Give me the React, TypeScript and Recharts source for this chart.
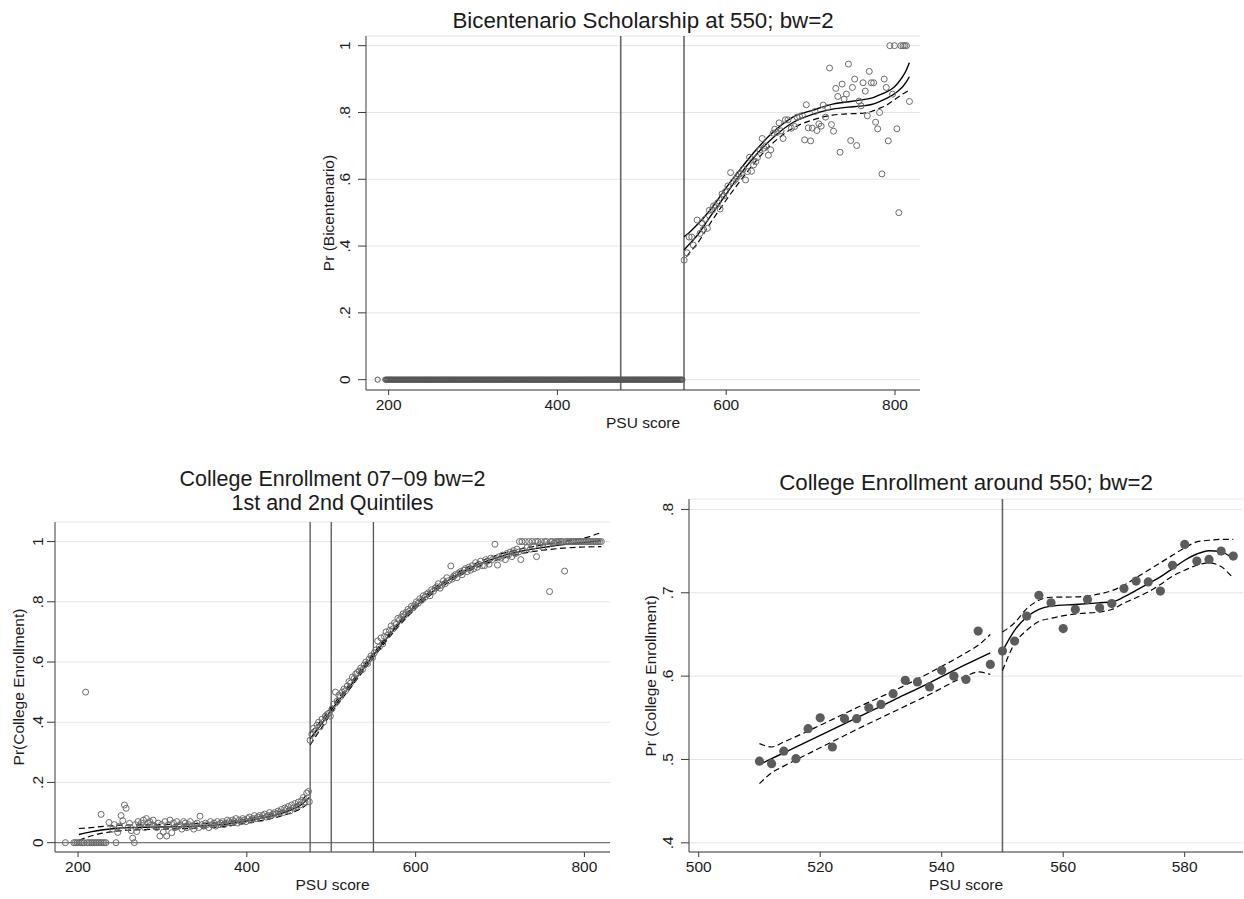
import React from 'react';
import { ComposedChart, Scatter, Line, XAxis, YAxis, CartesianGrid, ReferenceLine } from 'recharts';

const FONT = '"Liberation Sans", Arial, Helvetica, sans-serif';
const TICK_FS = 15.5;
const TITLE_FS = 22.3;
const TXT = '#1a1a1a';
const AX = '#3a3a3a';

// ---------- Panel 1: Bicentenario Scholarship ----------
const bicXTicks = [200, 400, 600, 800];
const bicYTicks = [0, 0.2, 0.4, 0.6, 0.8, 1];
const bicCutoffs = [475, 550];
const bicZeroX = [187,
  196,198,200,202,204,206,208,210,212,214,216,218,220,222,224,226,228,230,232,234,
  236,238,240,242,244,246,248,250,252,254,256,258,260,262,264,266,268,270,272,274,
  276,278,280,282,284,286,288,290,292,294,296,298,300,302,304,306,308,310,312,314,
  316,318,320,322,324,326,328,330,332,334,336,338,340,342,344,346,348,350,352,354,
  356,358,360,362,364,366,368,370,372,374,376,378,380,382,384,386,388,390,392,394,
  396,398,400,402,404,406,408,410,412,414,416,418,420,422,424,426,428,430,432,434,
  436,438,440,442,444,446,448,450,452,454,456,458,460,462,464,466,468,470,472,474,
  476,478,480,482,484,486,488,490,492,494,496,498,500,502,504,506,508,510,512,514,
  516,518,520,522,524,526,528,530,532,534,536,538,540,542,544,546,548];
const bicZeroX2 = [
  197,199,201,203,205,207,209,211,213,215,217,219,221,223,225,227,229,231,233,235,
  237,239,241,243,245,247,249,251,253,255,257,259,261,263,265,267,269,271,273,275,
  277,279,281,283,285,287,289,291,293,295,297,299,301,303,305,307,309,311,313,315,
  317,319,321,323,325,327,329,331,333,335,337,339,341,343,345,347,349,351,353,355,
  357,359,361,363,365,367,369,371,373,375,377,379,381,383,385,387,389,391,393,395,
  397,399,401,403,405,407,409,411,413,415,417,419,421,423,425,427,429,431,433,435,
  437,439,441,443,445,447,449,451,453,455,457,459,461,463,465,467,469,471,473,475,
  477,479,481,483,485,487,489,491,493,495,497,499,501,503,505,507,509,511,513,515,
  517,519,521,523,525,527,529,531,533,535,537,539,541,543,545,547];
const bicRightX = [550.2,553.4,556.1,559.2,561,565.5,569,571,573,575,577.7,580,583.6,585,587.6,590,592.7,595,597,599,
  602,605.2,608.4,611,613.1,615,617.8,620,622.9,625.3,627.6,630,632.4,635.1,637,639.8,642.6,644.5,647,650,
  652.8,655.6,657.5,660,662.6,665,667.4,670.1,673.2,677.2,681.1,683.9,687,690.2,692.9,694.9,697.2,700,701.9,705.1,
  707.4,709.8,712.5,714.9,717.7,720,722.4,724.7,727.1,729.8,732.2,734.9,737.3,739.7,742.4,744.8,747.5,749.5,752.2,754.6,
  757.4,759.7,762.1,764.8,767.2,769.5,771.9,774.7,777,779.4,781.7,784.5,787.2,789.6,792,793.9,797.1,799.4,802.2,804.5,
  806.9,809.6,811.6,813.6,817.1];
const bicRightY = [0.358,0.380,0.427,0.427,0.403,0.478,0.438,0.470,0.450,0.480,0.453,0.507,0.508,0.520,0.521,0.530,0.511,0.556,0.550,0.563,
  0.580,0.620,0.593,0.600,0.608,0.615,0.618,0.630,0.598,0.623,0.666,0.624,0.643,0.653,0.665,0.688,0.722,0.693,0.700,0.672,
  0.688,0.738,0.750,0.740,0.769,0.745,0.722,0.778,0.778,0.753,0.758,0.786,0.788,0.791,0.718,0.823,0.754,0.715,0.753,0.803,
  0.746,0.766,0.759,0.822,0.786,0.815,0.933,0.764,0.744,0.872,0.848,0.681,0.885,0.840,0.855,0.945,0.716,0.875,0.900,0.701,
  0.834,0.820,0.889,0.864,0.790,0.923,0.889,0.889,0.771,0.751,0.800,0.616,0.900,0.875,0.715,1.0,0.855,1.0,0.751,0.500,
  1.0,1.0,1.0,1.0,0.833];
const bicFitX = [550,556,565,581,600,616,636,656,679,703,726,745,758,772,781,790,797,803,809,813,817];
const bicUpper = [0.428,0.440,0.462,0.508,0.575,0.628,0.690,0.742,0.786,0.807,0.825,0.832,0.837,0.843,0.852,0.862,0.872,0.887,0.907,0.925,0.949];
const bicFit = [0.388,0.405,0.430,0.488,0.556,0.613,0.675,0.726,0.770,0.795,0.810,0.816,0.819,0.824,0.832,0.842,0.852,0.863,0.877,0.890,0.907];
const bicLowerX = [553,556,565,581,600,616,636,656,679,703,726,745,758,772,781,790,797,803,809,817];
const bicLower = [0.368,0.378,0.405,0.468,0.538,0.593,0.657,0.710,0.753,0.778,0.792,0.796,0.797,0.803,0.812,0.822,0.834,0.845,0.855,0.867];

// ---------- Panel 2: College Enrollment 07-09 ----------
const ceXTicks = [200, 400, 600, 800];
const ceYTicks = [0, 0.2, 0.4, 0.6, 0.8, 1];
const ceCutoffs = [475, 500, 550];
const ceX = [185,195,197,199,201,203,205,207,209,211,213,215,217,219,221,223,225,227,227.3,229,
  231,233,236.7,241,243,245,247,249,251,253,255,257,259,261,263,264.8,266.7,268,269.5,271,
  273,275,277.4,279,281,283,285,287,289,291,293,295,297,299,301,303,305,307,309,311,
  313,315,317,319,321,323,325,327,329,331,333,335,337,339,341,343,344.5,347,349,351,
  353,355,357,359,361,363,365,367,369,371,373,375,377,379,381,383,385,387,389,391,
  393,395,397,399,401,403,405,407,409,411,413,415,417,419,421,423,425,427,429,431,
  433,435,437,439,441,443,445,447,449,451,453,455,457,459,461,463,465,467,469,471,
  473,474,
  475,477,479,481,483,485,487,489,491,493,495,497,499,501,503,505,507,509,511,513,
  515,517,519,521,523,525,527,529,531,533,535,537,539,541,543,545,547,549,551,553,
  555,557,559,561,563,565,567,569,571,573,575,577,579,581,583,585,587,589,591,593,
  595,597,599,601,603,605,607,609,611,613,615,617,619,621,623,625,627,629,631,633,
  635,637,639,641.7,643,645,647,649,651,653,655,657,659,661,663,665,667,669,671,673,
  675,677,679,681.6,683,685,687,689,691,694,697,699,701,703,706.3,708,710,712,714,716,
  718,720,722,723,724.6,726,728,730,732,734,736,738,740,742,743.3,745,747,749,751,753,
  755,757,758.7,760,762,764,766,768,770,772,774,776.5,778,780,782,784,786,788,790,792,
  794,796,798,800,802,804,806,808,810,812,814,816,818,820];
const ceY = [0,0,0,0,0,0,0,0,0.5,0,0,0,0,0,0,0,0,0,0.094,0,
  0,0,0.067,0.045,0.06,0,0.034,0.055,0.09,0.073,0.125,0.114,0.05,0.064,0.04,0.015,0,0.06,0.037,0.07,
  0.055,0.065,0.075,0.05,0.08,0.065,0.07,0.06,0.075,0.055,0.05,0.065,0.022,0.06,0.035,0.07,0.022,0.06,0.075,0.033,
  0.065,0.05,0.07,0.055,0.06,0.045,0.07,0.065,0.05,0.06,0.07,0.055,0.045,0.06,0.065,0.05,0.088,0.06,0.055,0.065,
  0.06,0.05,0.07,0.06,0.065,0.055,0.07,0.06,0.065,0.07,0.06,0.065,0.075,0.07,0.065,0.075,0.07,0.08,0.065,0.075,
  0.07,0.08,0.075,0.07,0.08,0.085,0.075,0.08,0.09,0.08,0.085,0.09,0.08,0.09,0.095,0.085,0.09,0.1,0.09,0.095,
  0.1,0.095,0.105,0.1,0.11,0.1,0.115,0.11,0.12,0.105,0.125,0.115,0.13,0.12,0.135,0.125,0.14,0.15,0.135,0.165,
  0.17,0.136,
  0.34,0.36,0.38,0.37,0.39,0.40,0.385,0.41,0.40,0.42,0.425,0.43,0.42,0.445,0.46,0.50,0.47,0.49,0.485,0.50,
  0.51,0.505,0.52,0.535,0.53,0.55,0.545,0.56,0.565,0.57,0.58,0.575,0.59,0.60,0.595,0.61,0.62,0.615,0.63,0.64,
  0.67,0.65,0.68,0.66,0.685,0.70,0.69,0.705,0.72,0.71,0.73,0.725,0.745,0.74,0.75,0.76,0.755,0.765,0.775,0.77,
  0.785,0.78,0.79,0.80,0.795,0.81,0.805,0.82,0.815,0.825,0.83,0.82,0.84,0.835,0.845,0.85,0.86,0.845,0.855,0.87,
  0.86,0.88,0.87,0.919,0.875,0.885,0.89,0.88,0.895,0.90,0.89,0.905,0.91,0.90,0.915,0.905,0.92,0.91,0.93,0.915,
  0.925,0.935,0.92,0.92,0.94,0.935,0.925,0.945,0.94,0.991,0.922,0.95,0.945,0.955,0.94,0.96,0.955,0.965,0.95,0.97,
  0.96,0.975,0.965,1,0.94,1,0.97,1,0.98,1,0.975,1,0.985,1,0.95,1,0.99,1,0.98,1,
  1,0.99,0.834,1,1,0.995,1,1,1,1,1,0.902,1,1,1,1,1,1,1,1,
  1,1,1,1,1,1,1,1,1,1,1,1,1,1];
const ceLeftFitX = [201,215,230,248,275,300,342,370,389,410,436,450,464,474];
const ceLeftFit = [0.027,0.036,0.043,0.048,0.051,0.052,0.055,0.060,0.067,0.077,0.093,0.106,0.125,0.150];
const ceLeftUp = [0.047,0.050,0.054,0.058,0.059,0.060,0.063,0.067,0.074,0.084,0.101,0.115,0.138,0.170];
const ceLeftLo = [0.008,0.022,0.032,0.039,0.043,0.045,0.048,0.053,0.060,0.070,0.085,0.097,0.113,0.133];
const ceRightFitX = [475,490,500,525,550,575,600,625,650,675,700,725,750,775,800,820];
const ceRightFit = [0.345,0.400,0.440,0.530,0.622,0.710,0.785,0.845,0.890,0.925,0.950,0.968,0.980,0.990,0.997,1.003];
const ceRightUp = [0.365,0.412,0.450,0.538,0.629,0.717,0.792,0.852,0.897,0.932,0.958,0.976,0.989,1.000,1.012,1.030];
const ceRightLo = [0.325,0.388,0.430,0.522,0.615,0.703,0.778,0.838,0.883,0.918,0.942,0.960,0.971,0.978,0.982,0.983];

// ---------- Panel 3: College Enrollment around 550 ----------
const nrXTicks = [500, 520, 540, 560, 580];
const nrYTicks = [0.4, 0.5, 0.6, 0.7, 0.8];
const nrCutoff = 550;
const nrX = [510,512,514,516,518,520,522,524,526,528,530,532,534,536,538,540,542,544,546,548,
  550,552,554,556,558,560,562,564,566,568,570,572,574,576,578,580,582,584,586,588];
const nrY = [0.498,0.495,0.510,0.501,0.537,0.550,0.515,0.549,0.549,0.562,0.566,0.579,0.595,0.593,0.587,0.607,0.600,0.596,0.654,0.614,
  0.630,0.642,0.672,0.697,0.688,0.657,0.680,0.692,0.682,0.687,0.705,0.714,0.713,0.702,0.733,0.758,0.738,0.740,0.750,0.744];
const nrLeftX = [510,512,514,520,526,532,538,544,546,548];
const nrLeftFit = [0.494,0.501,0.508,0.529,0.550,0.571,0.592,0.614,0.621,0.628];
const nrLeftUp = [0.519,0.515,0.521,0.541,0.562,0.582,0.604,0.628,0.637,0.650];
const nrLeftLo = [0.471,0.484,0.492,0.514,0.536,0.557,0.578,0.600,0.605,0.602];
const nrRightX = [550,552,554,556,558,562,566,568,570,572,574,576,578,580,582,584,586,588];
const nrRightFit = [0.630,0.655,0.671,0.680,0.684,0.686,0.688,0.689,0.695,0.703,0.711,0.719,0.729,0.739,0.7465,0.7505,0.749,0.741];
const nrRightUp = [0.653,0.664,0.681,0.691,0.6946,0.695,0.6986,0.7025,0.709,0.718,0.727,0.736,0.745,0.754,0.761,0.763,0.764,0.764];
const nrRightLo = [0.6066,0.639,0.655,0.6655,0.6694,0.6746,0.677,0.680,0.6875,0.694,0.701,0.710,0.720,0.727,0.733,0.736,0.7314,0.7174];

// ---------- helpers ----------
const pts = (xs: number[], ys: number[]) => xs.map((x, i) => ({ x, y: ys[i] }));
const zeros = (xs: number[]) => xs.map((x) => ({ x, y: 0 }));

const fmtTick = (v: number) => {
  if (v === 0) return '0';
  if (v === 1) return '1';
  return String(Math.round(v * 10) / 10).replace(/^0\./, '.');
};

const RotTick = (props: any) => {
  const { x, y, payload } = props;
  return (
    <text x={x} y={y} transform={`rotate(-90 ${x} ${y})`} textAnchor="middle"
      fontSize={TICK_FS} fontFamily={FONT} fill={TXT}>{fmtTick(payload.value)}</text>
  );
};

const HollowDot = (props: any) => {
  const { cx, cy } = props;
  if (cx == null || cy == null) return <g />;
  return <circle cx={cx} cy={cy} r={3} fill="none" stroke="#6b6b6b" strokeWidth={1} />;
};
const ZeroDot = (props: any) => {
  const { cx, cy } = props;
  if (cx == null || cy == null) return <g />;
  return <circle cx={cx} cy={cy} r={2.6} fill="none" stroke="#555" strokeWidth={1} />;
};
const SolidDot = (props: any) => {
  const { cx, cy } = props;
  if (cx == null || cy == null) return <g />;
  return <circle cx={cx} cy={cy} r={4.6} fill="#5c5c5c" />;
};

const xTickStyle = { fontSize: TICK_FS, fontFamily: FONT, fill: TXT };

const fitLine = (key: string, data: any[], dashed: boolean) => (
  <Line key={key} data={data} dataKey="y" type="monotone" stroke="#000" strokeWidth={dashed ? 1.2 : 1.4}
    strokeDasharray={dashed ? '6 3.5' : undefined} dot={false} activeDot={false} isAnimationActive={false} />
);

export default function App() {
  return (
    <div style={{ position: 'absolute', left: 0, top: 0, width: 1244, height: 899, background: '#fff', overflow: 'hidden' }}>
      {/* Panel 1 */}
      <div style={{ position: 'absolute', left: 300, top: 30 }}>
        <ComposedChart width={640} height={400} margin={{ top: 6, right: 20, bottom: 0, left: 0 }}>
          <CartesianGrid horizontal vertical={false} stroke="#e6e6e6" />
          <XAxis type="number" dataKey="x" domain={[173.2, 829.6]} allowDataOverflow ticks={bicXTicks} interval={0}
            height={40} tickSize={5} tickMargin={4} axisLine={{ stroke: AX }} tickLine={{ stroke: AX }} tick={xTickStyle} />
          <YAxis type="number" dataKey="y" domain={[-0.031, 1.029]} allowDataOverflow ticks={bicYTicks} interval={0}
            width={66} tickSize={8} tickMargin={8} axisLine={{ stroke: AX }} tickLine={{ stroke: AX }} tick={RotTick} />
          <ReferenceLine x={bicCutoffs[0]} stroke="#666" strokeWidth={1.6} />
          <ReferenceLine x={bicCutoffs[1]} stroke="#222" strokeWidth={1.1} />
          <Scatter data={zeros(bicZeroX)} shape={ZeroDot} isAnimationActive={false} />
          <Scatter data={zeros(bicZeroX2)} shape={ZeroDot} isAnimationActive={false} />
          <Scatter data={pts(bicRightX, bicRightY)} shape={HollowDot} isAnimationActive={false} />
          {fitLine('bu', pts(bicFitX, bicUpper), false)}
          {fitLine('bf', pts(bicFitX, bicFit), false)}
          {fitLine('bl', pts(bicLowerX, bicLower), true)}
        </ComposedChart>
      </div>

      {/* Panel 2 */}
      <div style={{ position: 'absolute', left: 0, top: 500 }}>
        <ComposedChart width={630} height={390} margin={{ top: 22, right: 20, bottom: 0, left: 0 }}>
          <CartesianGrid horizontal vertical={false} stroke="#e6e6e6" />
          <XAxis type="number" dataKey="x" domain={[172.7, 830.3]} allowDataOverflow ticks={ceXTicks} interval={0}
            height={38} tickSize={5} tickMargin={4} axisLine={{ stroke: AX }} tickLine={{ stroke: AX }} tick={xTickStyle} />
          <YAxis type="number" dataKey="y" domain={[-0.031, 1.065]} allowDataOverflow ticks={ceYTicks} interval={0}
            width={55} tickSize={8} tickMargin={4} axisLine={{ stroke: AX }} tickLine={{ stroke: AX }} tick={RotTick} />
          <ReferenceLine y={0} stroke="#777" strokeWidth={1.2} />
          {ceCutoffs.map((c) => (
            <ReferenceLine key={c} x={c} stroke="#555" strokeWidth={1.3} />
          ))}
          <Scatter data={pts(ceX, ceY)} shape={HollowDot} isAnimationActive={false} />
          {fitLine('lf', pts(ceLeftFitX, ceLeftFit), false)}
          {fitLine('lu', pts(ceLeftFitX, ceLeftUp), true)}
          {fitLine('ll', pts(ceLeftFitX, ceLeftLo), true)}
          {fitLine('rf', pts(ceRightFitX, ceRightFit), false)}
          {fitLine('ru', pts(ceRightFitX, ceRightUp), true)}
          {fitLine('rl', pts(ceRightFitX, ceRightLo), true)}
        </ComposedChart>
      </div>

      {/* Panel 3 */}
      <div style={{ position: 'absolute', left: 630, top: 480 }}>
        <ComposedChart width={614} height={410} margin={{ top: 19, right: 1, bottom: 0, left: 0 }}>
          <CartesianGrid horizontal vertical={false} stroke="#e6e6e6" />
          <XAxis type="number" dataKey="x" domain={[498.4, 589.6]} allowDataOverflow ticks={nrXTicks} interval={0}
            height={38} tickSize={5} tickMargin={4} axisLine={{ stroke: AX }} tickLine={{ stroke: AX }} tick={xTickStyle} />
          <YAxis type="number" dataKey="y" domain={[0.389, 0.8125]} allowDataOverflow ticks={nrYTicks} interval={0}
            width={59} tickSize={8} tickMargin={8} axisLine={{ stroke: AX }} tickLine={{ stroke: AX }} tick={RotTick} />
          <ReferenceLine x={nrCutoff} stroke="#666" strokeWidth={1.6} />
          <Scatter data={pts(nrX, nrY)} shape={SolidDot} isAnimationActive={false} />
          {fitLine('nlf', pts(nrLeftX, nrLeftFit), false)}
          {fitLine('nlu', pts(nrLeftX, nrLeftUp), true)}
          {fitLine('nll', pts(nrLeftX, nrLeftLo), true)}
          {fitLine('nrf', pts(nrRightX, nrRightFit), false)}
          {fitLine('nru', pts(nrRightX, nrRightUp), true)}
          {fitLine('nrl', pts(nrRightX, nrRightLo), true)}
        </ComposedChart>
      </div>

      {/* Titles and axis titles */}
      <svg width={1244} height={899} style={{ position: 'absolute', left: 0, top: 0, pointerEvents: 'none' }}
        fontFamily={FONT} fill={TXT}>
        <text x={643} y={28} fontSize={TITLE_FS} textAnchor="middle">Bicentenario Scholarship at 550; bw=2</text>
        <text x={643} y={428} fontSize={TICK_FS} textAnchor="middle">PSU score</text>
        <text x={334} y={213} fontSize={TICK_FS} textAnchor="middle" transform="rotate(-90 334 213)">Pr (Bicentenario)</text>

        <text x={332.5} y={486} fontSize={21.5} textAnchor="middle">College Enrollment 07−09 bw=2</text>
        <text x={332.5} y={510} fontSize={21.5} textAnchor="middle">1st and 2nd Quintiles</text>
        <text x={332.5} y={890} fontSize={TICK_FS} textAnchor="middle">PSU score</text>
        <text x={24} y={687} fontSize={TICK_FS} textAnchor="middle" transform="rotate(-90 24 687)">Pr(College Enrollment)</text>

        <text x={966} y={490} fontSize={TITLE_FS} textAnchor="middle">College Enrollment around 550; bw=2</text>
        <text x={966} y={890} fontSize={TICK_FS} textAnchor="middle">PSU score</text>
        <text x={656} y={676} fontSize={TICK_FS} textAnchor="middle" transform="rotate(-90 656 676)">Pr (College Enrollment)</text>
      </svg>
    </div>
  );
}
